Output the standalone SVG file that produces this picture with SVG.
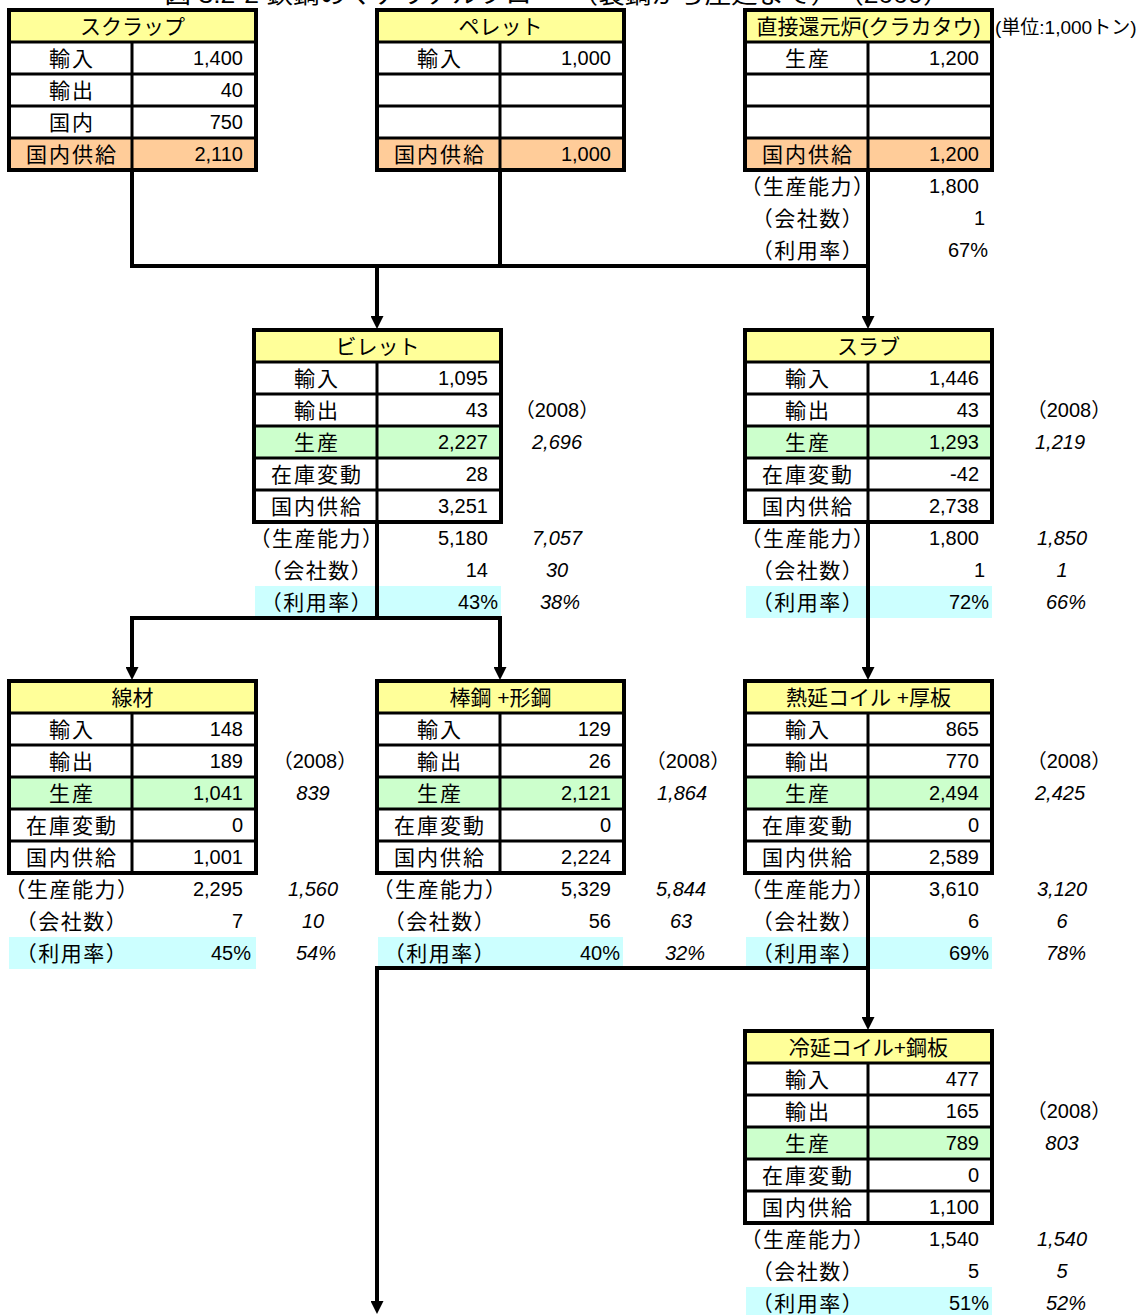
<svg xmlns="http://www.w3.org/2000/svg" width="1137" height="1315" viewBox="0 0 1137 1315">
<style>
text{font-family:"Liberation Sans","Noto Sans CJK JP",sans-serif;font-size:20px;fill:#000;dominant-baseline:central}
.hdr{font-size:21px;text-anchor:middle}
.lbl{font-size:21px;text-anchor:middle;letter-spacing:2px}
.pl{font-size:21px;text-anchor:middle;letter-spacing:1.5px}
.num{text-anchor:end}
.it{font-style:italic;text-anchor:middle}
.yr{text-anchor:middle}
.y{fill:#FFFF99}
.w{fill:#FFFFFF}
.o{fill:#FFCC99}
.g{fill:#CCFFCC}
.c{fill:#CCFFFF}
.grid{stroke:#000;stroke-width:3;fill:none}
.frame{stroke:#000;stroke-width:4;fill:none}
.conn{stroke:#000;stroke-width:4;fill:none;stroke-linecap:square}
.arr{stroke:#000;stroke-width:4;fill:none;marker-end:url(#ah)}
</style>
<defs>
<marker id="ah" markerUnits="userSpaceOnUse" markerWidth="13" markerHeight="13" viewBox="0 0 12 12" refX="0" refY="6" orient="auto"><path d="M0,0 L12,6 L0,12 z" fill="#000"/></marker>
</defs>

<text x="557" y="-6" style="font-size:24px;text-anchor:middle" textLength="785" lengthAdjust="spacingAndGlyphs">図 3.2-2 鉄鋼のマテリアルフロー　（製鋼から圧延まで）　（2009）</text>

<!-- Scrap -->
<g id="scrap">
<rect class="y" x="9" y="10" width="247" height="32"/>
<rect class="w" x="9" y="42" width="247" height="96"/>
<rect class="o" x="9" y="138" width="247" height="32"/>
<path class="grid" d="M9,42H256M9,74H256M9,106H256M9,138H256M132,42V170"/>
<rect class="frame" x="9" y="10" width="247" height="160"/>
<text class="hdr" x="132.5" y="26">スクラップ</text>
<text class="lbl" x="72" y="58">輸入</text><text class="num" x="243" y="58">1,400</text>
<text class="lbl" x="72" y="90">輸出</text><text class="num" x="243" y="90">40</text>
<text class="lbl" x="72" y="122">国内</text><text class="num" x="243" y="122">750</text>
<text class="lbl" x="72" y="154">国内供給</text><text class="num" x="243" y="154">2,110</text>
</g>

<!-- Pellet -->
<g id="pellet">
<rect class="y" x="377" y="10" width="247" height="32"/>
<rect class="w" x="377" y="42" width="247" height="96"/>
<rect class="o" x="377" y="138" width="247" height="32"/>
<path class="grid" d="M377,42H624M377,74H624M377,106H624M377,138H624M500,42V170"/>
<rect class="frame" x="377" y="10" width="247" height="160"/>
<text class="hdr" x="500.5" y="26">ペレット</text>
<text class="lbl" x="440" y="58">輸入</text><text class="num" x="611" y="58">1,000</text>
<text class="lbl" x="440" y="154">国内供給</text><text class="num" x="611" y="154">1,000</text>
</g>

<!-- Direct reduction -->
<g id="direct-reduction">
<rect class="y" x="745" y="10" width="247" height="32"/>
<rect class="w" x="745" y="42" width="247" height="96"/>
<rect class="o" x="745" y="138" width="247" height="32"/>
<path class="grid" d="M745,42H992M745,74H992M745,106H992M745,138H992M868,42V170"/>
<rect class="frame" x="745" y="10" width="247" height="160"/>
<text class="hdr" x="868.5" y="26">直接還元炉(クラカタウ)</text>
<text x="995" y="27" style="font-size:19px">(単位:1,000トン)</text>
<text class="lbl" x="808" y="58">生産</text><text class="num" x="979" y="58">1,200</text>
<text class="lbl" x="808" y="154">国内供給</text><text class="num" x="979" y="154">1,200</text>
<text class="pl" x="808" y="186">（生産能力）</text><text class="num" x="979" y="186">1,800</text>
<text class="pl" x="808" y="218">（会社数）</text><text class="num" x="985" y="218">1</text>
<text class="pl" x="808" y="250">（利用率）</text><text class="num" x="988" y="250">67%</text>
</g>

<!-- Billet -->
<g id="billet">
<rect class="y" x="254" y="330" width="247" height="32"/>
<rect class="w" x="254" y="362" width="247" height="160"/>
<rect class="g" x="254" y="426" width="247" height="32"/>
<path class="grid" d="M254,362H501M254,394H501M254,426H501M254,458H501M254,490H501M377,362V522"/>
<rect class="frame" x="254" y="330" width="247" height="192"/>
<rect class="c" x="255" y="586" width="246" height="32"/>
<text class="hdr" x="377.5" y="346">ビレット</text>
<text class="lbl" x="317" y="378">輸入</text><text class="num" x="488" y="378">1,095</text>
<text class="lbl" x="317" y="410">輸出</text><text class="num" x="488" y="410">43</text><text class="yr" x="557" y="410">（2008）</text>
<text class="lbl" x="317" y="442">生産</text><text class="num" x="488" y="442">2,227</text><text class="it" x="557" y="442">2,696</text>
<text class="lbl" x="317" y="474">在庫変動</text><text class="num" x="488" y="474">28</text>
<text class="lbl" x="317" y="506">国内供給</text><text class="num" x="488" y="506">3,251</text>
<text class="pl" x="317" y="538">（生産能力）</text><text class="num" x="488" y="538">5,180</text><text class="it" x="557" y="538">7,057</text>
<text class="pl" x="317" y="570">（会社数）</text><text class="num" x="488" y="570">14</text><text class="it" x="557" y="570">30</text>
<text class="pl" x="317" y="602">（利用率）</text><text class="num" x="498" y="602">43%</text><text class="it" x="560" y="602">38%</text>
</g>

<!-- Slab -->
<g id="slab">
<rect class="y" x="745" y="330" width="247" height="32"/>
<rect class="w" x="745" y="362" width="247" height="160"/>
<rect class="g" x="745" y="426" width="247" height="32"/>
<path class="grid" d="M745,362H992M745,394H992M745,426H992M745,458H992M745,490H992M868,362V522"/>
<rect class="frame" x="745" y="330" width="247" height="192"/>
<rect class="c" x="746" y="586" width="246" height="32"/>
<text class="hdr" x="868.5" y="346">スラブ</text>
<text class="lbl" x="808" y="378">輸入</text><text class="num" x="979" y="378">1,446</text>
<text class="lbl" x="808" y="410">輸出</text><text class="num" x="979" y="410">43</text><text class="yr" x="1069" y="410">（2008）</text>
<text class="lbl" x="808" y="442">生産</text><text class="num" x="979" y="442">1,293</text><text class="it" x="1060" y="442">1,219</text>
<text class="lbl" x="808" y="474">在庫変動</text><text class="num" x="979" y="474">-42</text>
<text class="lbl" x="808" y="506">国内供給</text><text class="num" x="979" y="506">2,738</text>
<text class="pl" x="808" y="538">（生産能力）</text><text class="num" x="979" y="538">1,800</text><text class="it" x="1062" y="538">1,850</text>
<text class="pl" x="808" y="570">（会社数）</text><text class="num" x="985" y="570">1</text><text class="it" x="1062" y="570">1</text>
<text class="pl" x="808" y="602">（利用率）</text><text class="num" x="989" y="602">72%</text><text class="it" x="1066" y="602">66%</text>
</g>

<!-- Wire rod -->
<g id="wire-rod">
<rect class="y" x="9" y="681" width="247" height="32"/>
<rect class="w" x="9" y="713" width="247" height="160"/>
<rect class="g" x="9" y="777" width="247" height="32"/>
<path class="grid" d="M9,713H256M9,745H256M9,777H256M9,809H256M9,841H256M132,713V873"/>
<rect class="frame" x="9" y="681" width="247" height="192"/>
<rect class="c" x="9" y="937" width="247" height="32"/>
<text class="hdr" x="132.5" y="697">線材</text>
<text class="lbl" x="72" y="729">輸入</text><text class="num" x="243" y="729">148</text>
<text class="lbl" x="72" y="761">輸出</text><text class="num" x="243" y="761">189</text><text class="yr" x="315" y="761">（2008）</text>
<text class="lbl" x="72" y="793">生産</text><text class="num" x="243" y="793">1,041</text><text class="it" x="313" y="793">839</text>
<text class="lbl" x="72" y="825">在庫変動</text><text class="num" x="243" y="825">0</text>
<text class="lbl" x="72" y="857">国内供給</text><text class="num" x="243" y="857">1,001</text>
<text class="pl" x="72" y="889">（生産能力）</text><text class="num" x="243" y="889">2,295</text><text class="it" x="313" y="889">1,560</text>
<text class="pl" x="72" y="921">（会社数）</text><text class="num" x="243" y="921">7</text><text class="it" x="313" y="921">10</text>
<text class="pl" x="72" y="953">（利用率）</text><text class="num" x="251" y="953">45%</text><text class="it" x="316" y="953">54%</text>
</g>

<!-- Bars + sections -->
<g id="bars-sections">
<rect class="y" x="377" y="681" width="247" height="32"/>
<rect class="w" x="377" y="713" width="247" height="160"/>
<rect class="g" x="377" y="777" width="247" height="32"/>
<path class="grid" d="M377,713H624M377,745H624M377,777H624M377,809H624M377,841H624M500,713V873"/>
<rect class="frame" x="377" y="681" width="247" height="192"/>
<rect class="c" x="378" y="937" width="245" height="32"/>
<text class="hdr" x="500.5" y="697">棒鋼 +形鋼</text>
<text class="lbl" x="440" y="729">輸入</text><text class="num" x="611" y="729">129</text>
<text class="lbl" x="440" y="761">輸出</text><text class="num" x="611" y="761">26</text><text class="yr" x="688" y="761">（2008）</text>
<text class="lbl" x="440" y="793">生産</text><text class="num" x="611" y="793">2,121</text><text class="it" x="682" y="793">1,864</text>
<text class="lbl" x="440" y="825">在庫変動</text><text class="num" x="611" y="825">0</text>
<text class="lbl" x="440" y="857">国内供給</text><text class="num" x="611" y="857">2,224</text>
<text class="pl" x="440" y="889">（生産能力）</text><text class="num" x="611" y="889">5,329</text><text class="it" x="681" y="889">5,844</text>
<text class="pl" x="440" y="921">（会社数）</text><text class="num" x="611" y="921">56</text><text class="it" x="681" y="921">63</text>
<text class="pl" x="440" y="953">（利用率）</text><text class="num" x="620" y="953">40%</text><text class="it" x="685" y="953">32%</text>
</g>

<!-- Hot rolled coil + plate -->
<g id="hot-rolled">
<rect class="y" x="745" y="681" width="247" height="32"/>
<rect class="w" x="745" y="713" width="247" height="160"/>
<rect class="g" x="745" y="777" width="247" height="32"/>
<path class="grid" d="M745,713H992M745,745H992M745,777H992M745,809H992M745,841H992M868,713V873"/>
<rect class="frame" x="745" y="681" width="247" height="192"/>
<rect class="c" x="746" y="937" width="246" height="32"/>
<text class="hdr" x="868.5" y="697">熱延コイル +厚板</text>
<text class="lbl" x="808" y="729">輸入</text><text class="num" x="979" y="729">865</text>
<text class="lbl" x="808" y="761">輸出</text><text class="num" x="979" y="761">770</text><text class="yr" x="1069" y="761">（2008）</text>
<text class="lbl" x="808" y="793">生産</text><text class="num" x="979" y="793">2,494</text><text class="it" x="1060" y="793">2,425</text>
<text class="lbl" x="808" y="825">在庫変動</text><text class="num" x="979" y="825">0</text>
<text class="lbl" x="808" y="857">国内供給</text><text class="num" x="979" y="857">2,589</text>
<text class="pl" x="808" y="889">（生産能力）</text><text class="num" x="979" y="889">3,610</text><text class="it" x="1062" y="889">3,120</text>
<text class="pl" x="808" y="921">（会社数）</text><text class="num" x="979" y="921">6</text><text class="it" x="1062" y="921">6</text>
<text class="pl" x="808" y="953">（利用率）</text><text class="num" x="989" y="953">69%</text><text class="it" x="1066" y="953">78%</text>
</g>

<!-- Cold rolled coil + sheet -->
<g id="cold-rolled">
<rect class="y" x="745" y="1031" width="247" height="32"/>
<rect class="w" x="745" y="1063" width="247" height="160"/>
<rect class="g" x="745" y="1127" width="247" height="32"/>
<path class="grid" d="M745,1063H992M745,1095H992M745,1127H992M745,1159H992M745,1191H992M868,1063V1223"/>
<rect class="frame" x="745" y="1031" width="247" height="192"/>
<rect class="c" x="746" y="1287" width="246" height="32"/>
<text class="hdr" x="868.5" y="1047">冷延コイル+鋼板</text>
<text class="lbl" x="808" y="1079">輸入</text><text class="num" x="979" y="1079">477</text>
<text class="lbl" x="808" y="1111">輸出</text><text class="num" x="979" y="1111">165</text><text class="yr" x="1069" y="1111">（2008）</text>
<text class="lbl" x="808" y="1143">生産</text><text class="num" x="979" y="1143">789</text><text class="it" x="1062" y="1143">803</text>
<text class="lbl" x="808" y="1175">在庫変動</text><text class="num" x="979" y="1175">0</text>
<text class="lbl" x="808" y="1207">国内供給</text><text class="num" x="979" y="1207">1,100</text>
<text class="pl" x="808" y="1239">（生産能力）</text><text class="num" x="979" y="1239">1,540</text><text class="it" x="1062" y="1239">1,540</text>
<text class="pl" x="808" y="1271">（会社数）</text><text class="num" x="979" y="1271">5</text><text class="it" x="1062" y="1271">5</text>
<text class="pl" x="808" y="1303">（利用率）</text><text class="num" x="989" y="1303">51%</text><text class="it" x="1066" y="1303">52%</text>
</g>

<!-- Connectors -->
<g id="connectors">
<path class="conn" d="M132,172 V266 H868 V172"/>
<path class="conn" d="M500,172 V266"/>
<path class="arr" d="M377,266 V316"/>
<path class="arr" d="M868,266 V316"/>
<path class="conn" d="M377,524 V618"/>
<path class="conn" d="M132,618 H500"/>
<path class="arr" d="M132,618 V667"/>
<path class="arr" d="M500,618 V667"/>
<path class="arr" d="M868,524 V667"/>
<path class="conn" d="M868,875 V968 H377"/>
<path class="arr" d="M868,968 V1017"/>
<path class="arr" d="M377,968 V1301"/>
</g>
</svg>
